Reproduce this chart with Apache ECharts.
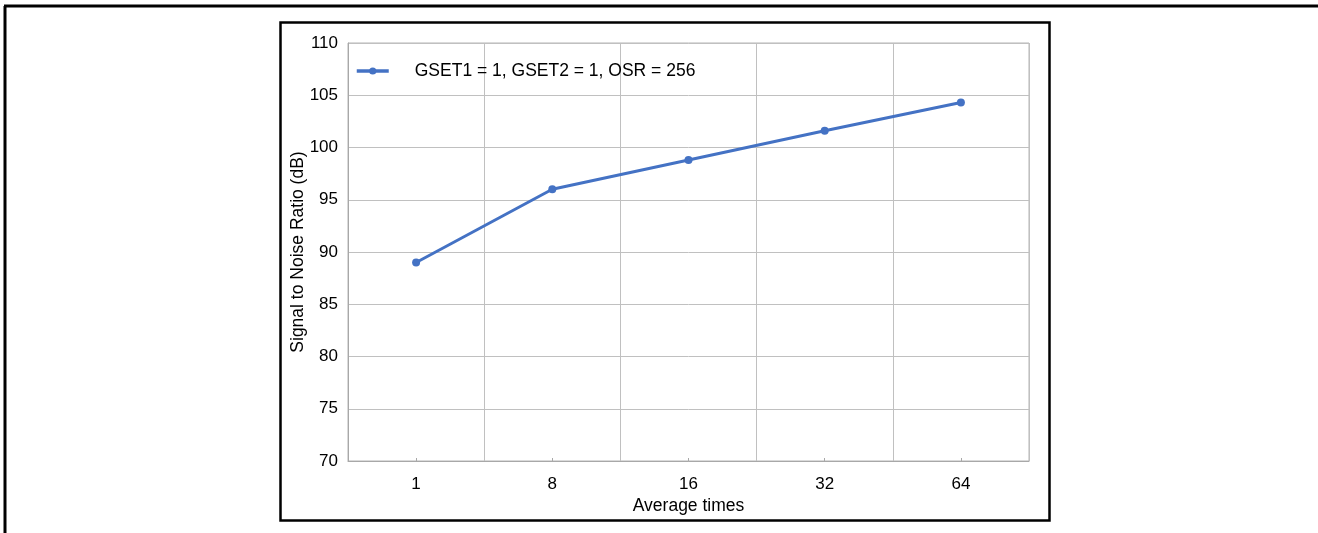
<!DOCTYPE html>
<html>
<head>
<meta charset="utf-8">
<script src="https://cdn.jsdelivr.net/npm/echarts@6/dist/echarts.min.js"></script>
<style>
html,body{margin:0;padding:0;background:#fff;}
#chart{width:1318px;height:533px;}
</style>
</head>
<body>
<div id="chart"></div>
<script>
const categories = ['1', '8', '16', '32', '64'];
const snrValues = [89.0, 96.0, 98.8, 101.6, 104.3];
const seriesName = 'GSET1 = 1, GSET2 = 1, OSR = 256';
const yMin = 70, yMax = 110, yStep = 5;

const chart = echarts.init(document.getElementById('chart'), null, {renderer: 'canvas'});
const font = 'Liberation Sans, Arial, sans-serif';
const lineColor = '#4472C4';
chart.setOption({
  animation: false,
  backgroundColor: '#fff',
  graphic: [
    {type: 'line', shape: {x1: 4, y1: 6, x2: 1318, y2: 6}, style: {stroke: '#000', lineWidth: 3}},
    {type: 'line', shape: {x1: 5, y1: 6, x2: 5, y2: 533}, style: {stroke: '#000', lineWidth: 3}},
    {type: 'rect', shape: {x: 280.5, y: 22.5, width: 769, height: 498}, style: {fill: 'none', stroke: '#000', lineWidth: 2.5}}
  ],
  grid: {left: 348, top: 43, width: 681, height: 418, show: true, borderColor: '#b4b4b4', borderWidth: 1, containLabel: false},
  legend: {
    left: 355, top: 62, padding: 0, itemWidth: 32, itemHeight: 9, itemGap: 10,
    lineStyle: {width: 3.5},
    textStyle: {fontFamily: font, fontSize: 17.5, color: '#000', padding: [0, 0, 0, 21]},
    data: [seriesName]
  },
  xAxis: {
    type: 'category', data: categories, boundaryGap: true,
    name: 'Average times', nameLocation: 'middle', nameGap: 36,
    nameMoveOverlap: false,
    nameTextStyle: {fontFamily: font, fontSize: 17.5, color: '#000'},
    axisLine: {lineStyle: {color: '#a8a8a8', width: 1}},
    axisTick: {show: true, inside: true, alignWithLabel: true, length: 3, lineStyle: {color: '#a8a8a8'}},
    axisLabel: {fontFamily: font, fontSize: 17, color: '#000', margin: 15},
    splitLine: {show: true, interval: 0, lineStyle: {color: '#c0c0c0', width: 1}}
  },
  yAxis: {
    type: 'value', min: yMin, max: yMax, interval: yStep,
    name: 'Signal to Noise Ratio (dB)', nameLocation: 'middle', nameGap: 41,
    nameMoveOverlap: false,
    nameTextStyle: {fontFamily: font, fontSize: 17.5, color: '#000'},
    axisLine: {show: true, lineStyle: {color: '#a8a8a8', width: 1}},
    axisTick: {show: false},
    axisLabel: {fontFamily: font, fontSize: 17, color: '#000', margin: 10},
    splitLine: {show: true, lineStyle: {color: '#c0c0c0', width: 1}}
  },
  series: [{
    name: seriesName, type: 'line', data: snrValues,
    symbol: 'circle', symbolSize: 8,
    lineStyle: {color: lineColor, width: 3},
    itemStyle: {color: lineColor}
  }]
});
</script>
</body>
</html>
